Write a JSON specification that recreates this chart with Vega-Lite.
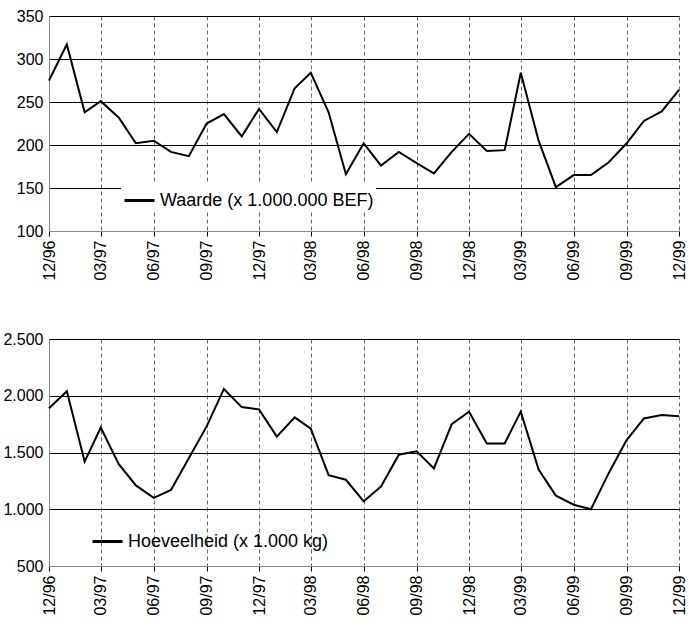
{
  "$schema": "https://vega.github.io/schema/vega-lite/v6.json",
  "padding": {"left": 2, "top": 8, "right": 4, "bottom": 2},
  "spacing": 50,
  "background": "white",
  "data": {
    "values": [
      {"maand": "1996-12-01", "waarde": 275, "hoeveelheid": 1890},
      {"maand": "1997-01-01", "waarde": 317, "hoeveelheid": 2040},
      {"maand": "1997-02-01", "waarde": 238, "hoeveelheid": 1420},
      {"maand": "1997-03-01", "waarde": 251, "hoeveelheid": 1720},
      {"maand": "1997-04-01", "waarde": 232, "hoeveelheid": 1400},
      {"maand": "1997-05-01", "waarde": 202, "hoeveelheid": 1210},
      {"maand": "1997-06-01", "waarde": 205, "hoeveelheid": 1100},
      {"maand": "1997-07-01", "waarde": 192, "hoeveelheid": 1170},
      {"maand": "1997-08-01", "waarde": 187, "hoeveelheid": 1450},
      {"maand": "1997-09-01", "waarde": 225, "hoeveelheid": 1730},
      {"maand": "1997-10-01", "waarde": 236, "hoeveelheid": 2060},
      {"maand": "1997-11-01", "waarde": 210, "hoeveelheid": 1900},
      {"maand": "1997-12-01", "waarde": 242, "hoeveelheid": 1880},
      {"maand": "1998-01-01", "waarde": 215, "hoeveelheid": 1640},
      {"maand": "1998-02-01", "waarde": 266, "hoeveelheid": 1810},
      {"maand": "1998-03-01", "waarde": 284, "hoeveelheid": 1710},
      {"maand": "1998-04-01", "waarde": 238, "hoeveelheid": 1300},
      {"maand": "1998-05-01", "waarde": 166, "hoeveelheid": 1260},
      {"maand": "1998-06-01", "waarde": 202, "hoeveelheid": 1070},
      {"maand": "1998-07-01", "waarde": 176, "hoeveelheid": 1200},
      {"maand": "1998-08-01", "waarde": 192, "hoeveelheid": 1480},
      {"maand": "1998-09-01", "waarde": 179, "hoeveelheid": 1510},
      {"maand": "1998-10-01", "waarde": 167, "hoeveelheid": 1360},
      {"maand": "1998-11-01", "waarde": 192, "hoeveelheid": 1750},
      {"maand": "1998-12-01", "waarde": 213, "hoeveelheid": 1860},
      {"maand": "1999-01-01", "waarde": 193, "hoeveelheid": 1580},
      {"maand": "1999-02-01", "waarde": 194, "hoeveelheid": 1580},
      {"maand": "1999-03-01", "waarde": 284, "hoeveelheid": 1860},
      {"maand": "1999-04-01", "waarde": 205, "hoeveelheid": 1350},
      {"maand": "1999-05-01", "waarde": 151, "hoeveelheid": 1120},
      {"maand": "1999-06-01", "waarde": 165, "hoeveelheid": 1040},
      {"maand": "1999-07-01", "waarde": 165, "hoeveelheid": 1000},
      {"maand": "1999-08-01", "waarde": 180, "hoeveelheid": 1320},
      {"maand": "1999-09-01", "waarde": 202, "hoeveelheid": 1610},
      {"maand": "1999-10-01", "waarde": 228, "hoeveelheid": 1800},
      {"maand": "1999-11-01", "waarde": 239, "hoeveelheid": 1830},
      {"maand": "1999-12-01", "waarde": 264, "hoeveelheid": 1820}
    ]
  },
  "vconcat": [
    {
      "width": 630,
      "height": 215,
      "mark": {"type": "line", "strokeWidth": 2, "color": "black"},
      "encoding": {
        "x": {
          "field": "maand", "type": "temporal", "title": null,
          "scale": {"type": "utc", "domain": [{"year": 1996, "month": 12, "date": 1, "utc": true}, {"year": 1999, "month": 12, "date": 1, "utc": true}]},
          "axis": {
            "values": [
              {"year": 1996, "month": 12, "date": 1, "utc": true},
              {"year": 1997, "month": 3, "date": 1, "utc": true},
              {"year": 1997, "month": 6, "date": 1, "utc": true},
              {"year": 1997, "month": 9, "date": 1, "utc": true},
              {"year": 1997, "month": 12, "date": 1, "utc": true},
              {"year": 1998, "month": 3, "date": 1, "utc": true},
              {"year": 1998, "month": 6, "date": 1, "utc": true},
              {"year": 1998, "month": 9, "date": 1, "utc": true},
              {"year": 1998, "month": 12, "date": 1, "utc": true},
              {"year": 1999, "month": 3, "date": 1, "utc": true},
              {"year": 1999, "month": 6, "date": 1, "utc": true},
              {"year": 1999, "month": 9, "date": 1, "utc": true},
              {"year": 1999, "month": 12, "date": 1, "utc": true}
            ],
            "labelExpr": "utcFormat(datum.value, '%m/%y')", "labelAngle": -90, "gridDash": [4, 3], "labelFlush": false, "labelOverlap": false
          }
        },
        "y": {
          "field": "waarde", "type": "quantitative", "title": null,
          "scale": {"domain": [100, 350]},
          "axis": {"values": [100, 150, 200, 250, 300, 350], "gridColor": "black", "gridOpacity": 1}
        },
        "color": {
          "datum": "Waarde (x 1.000.000 BEF)",
          "scale": {"range": ["black"]},
          "legend": {"orient": "none", "legendX": 72, "legendY": 166, "fillColor": "white", "padding": 2}
        }
      }
    },
    {
      "width": 630,
      "height": 227,
      "mark": {"type": "line", "strokeWidth": 2, "color": "black"},
      "encoding": {
        "x": {
          "field": "maand", "type": "temporal", "title": null,
          "scale": {"type": "utc", "domain": [{"year": 1996, "month": 12, "date": 1, "utc": true}, {"year": 1999, "month": 12, "date": 1, "utc": true}]},
          "axis": {
            "values": [
              {"year": 1996, "month": 12, "date": 1, "utc": true},
              {"year": 1997, "month": 3, "date": 1, "utc": true},
              {"year": 1997, "month": 6, "date": 1, "utc": true},
              {"year": 1997, "month": 9, "date": 1, "utc": true},
              {"year": 1997, "month": 12, "date": 1, "utc": true},
              {"year": 1998, "month": 3, "date": 1, "utc": true},
              {"year": 1998, "month": 6, "date": 1, "utc": true},
              {"year": 1998, "month": 9, "date": 1, "utc": true},
              {"year": 1998, "month": 12, "date": 1, "utc": true},
              {"year": 1999, "month": 3, "date": 1, "utc": true},
              {"year": 1999, "month": 6, "date": 1, "utc": true},
              {"year": 1999, "month": 9, "date": 1, "utc": true},
              {"year": 1999, "month": 12, "date": 1, "utc": true}
            ],
            "labelExpr": "utcFormat(datum.value, '%m/%y')", "labelAngle": -90, "gridDash": [4, 3], "labelFlush": false, "labelOverlap": false
          }
        },
        "y": {
          "field": "hoeveelheid", "type": "quantitative", "title": null,
          "scale": {"domain": [500, 2500]},
          "axis": {"values": [500, 1000, 1500, 2000, 2500], "gridColor": "black", "gridOpacity": 1,
                   "labelExpr": "replace(format(datum.value, ',.0f'), ',', '.')"}
        },
        "color": {
          "datum": "Hoeveelheid (x 1.000 kg)",
          "scale": {"range": ["black"]},
          "legend": {"orient": "none", "legendX": 38, "legendY": 182, "padding": 4}
        }
      }
    }
  ],
  "resolve": {"scale": {"color": "independent"}},
  "config": {
    "font": "Liberation Sans",
    "view": {"stroke": null},
    "axis": {
      "labelFontSize": 16, "labelColor": "black", "labelPadding": 4,
      "domainColor": "#888", "tickColor": "black", "gridColor": "#666"
    },
    "axisY": {"ticks": false, "labelPadding": 6},
    "legend": {"title": null, "labelFontSize": 18, "labelColor": "black", "labelLimit": 0, "symbolType": "stroke", "symbolSize": 900, "symbolStrokeWidth": 3}
  }
}
